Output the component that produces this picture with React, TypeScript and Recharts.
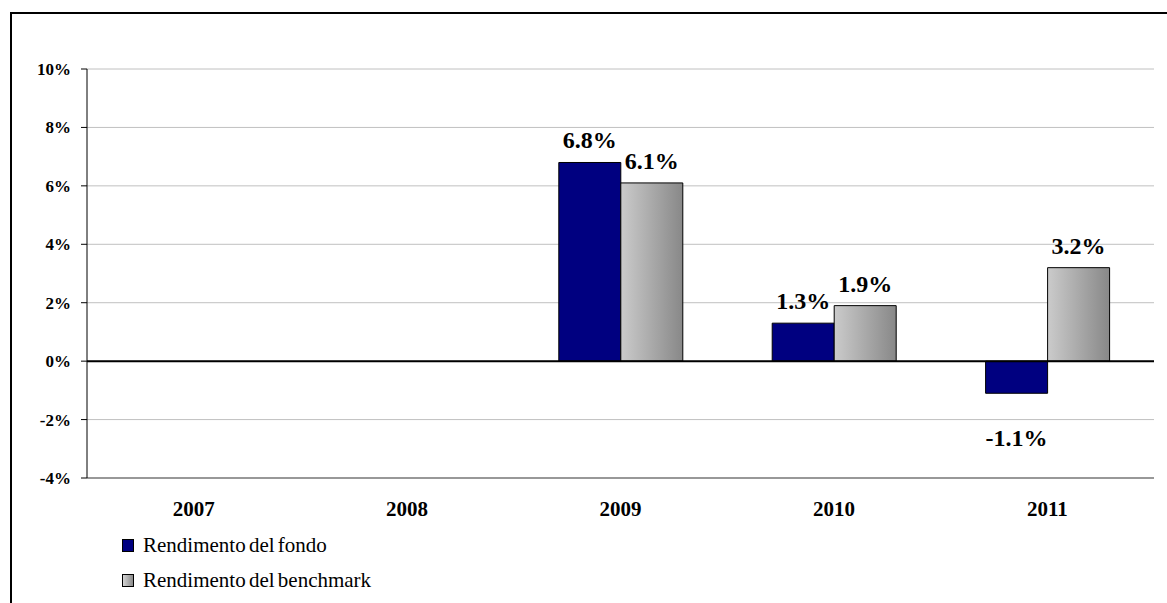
import React from "react";
import {
  BarChart,
  Bar,
  XAxis,
  YAxis,
  CartesianGrid,
  ReferenceLine,
  Legend,
  LabelList,
} from "recharts";

const categories = ["2007", "2008", "2009", "2010", "2011"];
const fondoValues: (number | null)[] = [null, null, 6.8, 1.3, -1.1];
const benchmarkValues: (number | null)[] = [null, null, 6.1, 1.9, 3.2];
const yTicks = [-4, -2, 0, 2, 4, 6, 8, 10];
const seriesNames = ["Rendimento del fondo", "Rendimento del benchmark"];

const data = categories.map((c, i) => ({
  year: c,
  fondo: fondoValues[i],
  benchmark: benchmarkValues[i],
}));

const FONT = "Liberation Serif, DejaVu Serif, serif";

const BarLabel = (props: any) => {
  const { x, y, width, height, value } = props;
  if (value === null || value === undefined) return null;
  const top = Math.min(y, y + height);
  const bottom = Math.max(y, y + height);
  const cx = x + width / 2;
  const cy = value >= 0 ? top - 22 : bottom + 45;
  return (
    <text
      x={cx}
      y={cy}
      textAnchor="middle"
      dominantBaseline="central"
      style={{ fontFamily: FONT }}
      fontWeight="bold"
      fontSize={24}
      fill="#000"
    >
      {`${Number(value).toFixed(1)}%`}
    </text>
  );
};

const LegendContent = () => {
  const rows = [
    { name: seriesNames[0], bg: "#000080" },
    { name: seriesNames[1], bg: "linear-gradient(to right, #d4d4d4, #8a8a8a)" },
  ];
  return (
    <div style={{ height: 70, fontFamily: FONT, fontSize: 21, color: "#000" }}>
      {rows.map((r) => (
        <div
          key={r.name}
          style={{ height: 35, display: "flex", alignItems: "center" }}
        >
          <span
            style={{
              display: "inline-block",
              width: 10,
              height: 11,
              border: "1px solid #000",
              background: r.bg,
              marginRight: 9,
            }}
          />
          <span style={{ wordSpacing: -2 }}>{r.name}</span>
        </div>
      ))}
    </div>
  );
};

export default function App() {
  return (
    <div
      style={{
        position: "absolute",
        left: 0,
        top: 0,
        width: 1167,
        height: 603,
        overflow: "hidden",
        background: "#fff",
        fontFamily: FONT,
      }}
    >
      <BarChart
        width={1167}
        height={603}
        data={data}
        margin={{ top: 69, right: 13, left: 17, bottom: 15 }}
        barGap={0}
        barSize={62}
        style={{ fontFamily: FONT }}
      >
        <defs>
          <linearGradient id="benchGrad" x1="0" y1="0" x2="1" y2="0">
            <stop offset="0%" stopColor="#cbcbcb" />
            <stop offset="100%" stopColor="#888888" />
          </linearGradient>
        </defs>
        <CartesianGrid vertical={false} stroke="#c0c0c0" strokeWidth={1} />
        <XAxis
          dataKey="year"
          height={40}
          axisLine={{ stroke: "#808080", strokeWidth: 1.5 }}
          tickLine={false}
          tickMargin={17}
          tick={{
            style: { fontFamily: FONT },
            fontWeight: "bold",
            fontSize: 21,
            fill: "#000",
          }}
          interval={0}
        />
        <YAxis
          width={70}
          domain={[-4, 10]}
          ticks={yTicks}
          interval={0}
          tickFormatter={(v: number) => `${v}%`}
          axisLine={{ stroke: "#000", strokeWidth: 1 }}
          tickLine={{ stroke: "#000", strokeWidth: 1 }}
          tickSize={6}
          tickMargin={10}
          tick={{
            style: { fontFamily: FONT },
            fontWeight: "bold",
            fontSize: 17,
            fill: "#000",
          }}
        />
        <Legend
          layout="horizontal"
          verticalAlign="bottom"
          align="left"
          wrapperStyle={{ left: 122, top: 528, width: 400 }}
          content={<LegendContent />}
        />
        <Bar
          dataKey="fondo"
          name={seriesNames[0]}
          fill="#000080"
          stroke="#000"
          strokeWidth={1}
          isAnimationActive={false}
        >
          <LabelList dataKey="fondo" content={<BarLabel />} />
        </Bar>
        <Bar
          dataKey="benchmark"
          name={seriesNames[1]}
          fill="url(#benchGrad)"
          stroke="#000"
          strokeWidth={1}
          isAnimationActive={false}
        >
          <LabelList dataKey="benchmark" content={<BarLabel />} />
        </Bar>
        <ReferenceLine y={0} stroke="#000" strokeWidth={2} />
      </BarChart>
      <div
        style={{
          position: "absolute",
          left: 10,
          top: 12,
          width: 1200,
          height: 700,
          borderLeft: "2px solid #000",
          borderTop: "2px solid #000",
          pointerEvents: "none",
        }}
      />
    </div>
  );
}
